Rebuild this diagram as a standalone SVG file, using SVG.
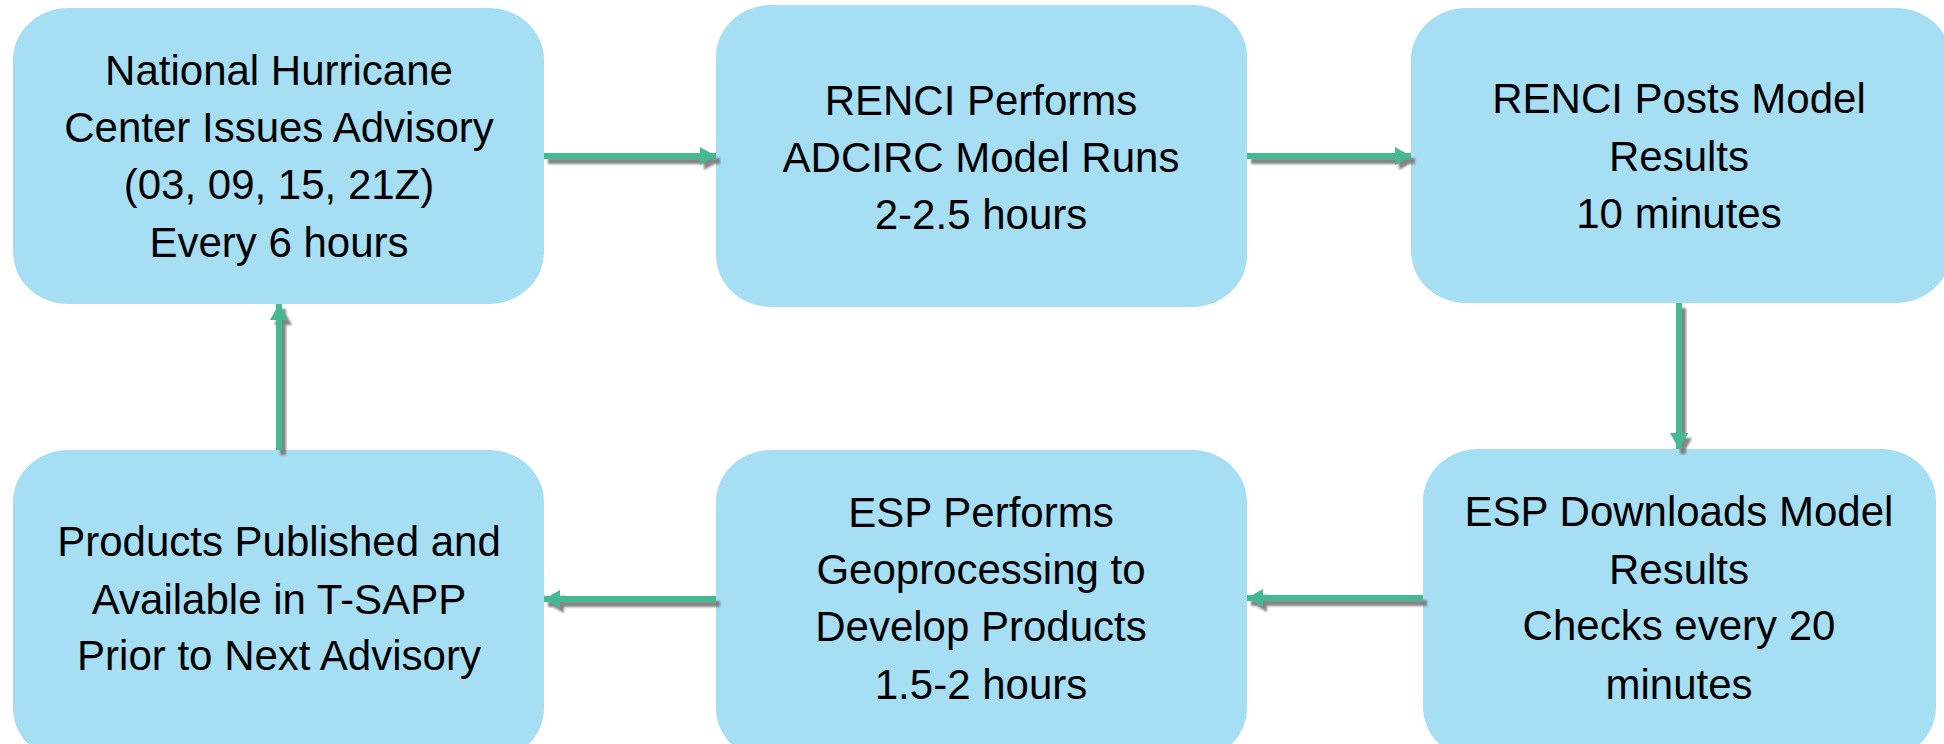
<svg xmlns="http://www.w3.org/2000/svg" width="1944" height="744" viewBox="0 0 1944 744">
<style>
.box{fill:#A6DEF3;}
.t{font-family:"Liberation Sans",Arial,sans-serif;font-size:42px;fill:#000;text-anchor:middle;}
.c{stroke:#44B894;stroke-width:6;fill:none;marker-end:url(#ah);}
</style>
<defs>
<marker id="ah" markerUnits="userSpaceOnUse" markerWidth="18" markerHeight="18" refX="16" refY="9" orient="auto">
<path d="M0,0 L16,9 L0,18 Z" fill="#44B894"/>
</marker>
<filter id="sh" x="-20%" y="-20%" width="140%" height="140%">
<feDropShadow dx="4" dy="5" stdDeviation="1.2" flood-color="#707070" flood-opacity="0.85"/>
</filter>
</defs>
<rect width="1944" height="744" fill="#fff"/>
<g id="n1"><rect class="box" x="13" y="8" width="531" height="296" rx="55" ry="52"/>
<text class="t" x="279" y="85">National Hurricane</text>
<text class="t" x="279" y="142">Center Issues Advisory</text>
<text class="t" x="279" y="199">(03, 09, 15, 21Z)</text>
<text class="t" x="279" y="257">Every 6 hours</text></g>
<g id="n2"><rect class="box" x="716" y="5" width="531" height="302" rx="55" ry="52"/>
<text class="t" x="981" y="115">RENCI Performs</text>
<text class="t" x="981" y="172">ADCIRC Model Runs</text>
<text class="t" x="981" y="229">2-2.5 hours</text></g>
<g id="n3"><rect class="box" x="1411" y="8" width="540" height="295" rx="55" ry="52"/>
<text class="t" x="1679" y="113">RENCI Posts Model</text>
<text class="t" x="1679" y="171">Results</text>
<text class="t" x="1679" y="228">10 minutes</text></g>
<g id="n4"><rect class="box" x="13" y="450" width="531" height="310" rx="55" ry="52"/>
<text class="t" x="279" y="556">Products Published and</text>
<text class="t" x="279" y="614">Available in T-SAPP</text>
<text class="t" x="279" y="670">Prior to Next Advisory</text></g>
<g id="n5"><rect class="box" x="716" y="450" width="531" height="310" rx="55" ry="52"/>
<text class="t" x="981" y="527">ESP Performs</text>
<text class="t" x="981" y="584">Geoprocessing to</text>
<text class="t" x="981" y="641">Develop Products</text>
<text class="t" x="981" y="699">1.5-2 hours</text></g>
<g id="n6"><rect class="box" x="1423" y="449" width="513" height="310" rx="55" ry="52"/>
<text class="t" x="1679" y="526">ESP Downloads Model</text>
<text class="t" x="1679" y="584">Results</text>
<text class="t" x="1679" y="640">Checks every 20</text>
<text class="t" x="1679" y="699">minutes</text></g>
<g id="connectors" filter="url(#sh)">
<line class="c" x1="544" y1="156" x2="716" y2="156"/>
<line class="c" x1="1247" y1="156" x2="1411" y2="156"/>
<line class="c" x1="1679" y1="303" x2="1679" y2="449"/>
<line class="c" x1="1423" y1="598" x2="1247" y2="598"/>
<line class="c" x1="716" y1="599" x2="544" y2="599"/>
<line class="c" x1="279" y1="450" x2="279" y2="304"/>
</g>
</svg>
